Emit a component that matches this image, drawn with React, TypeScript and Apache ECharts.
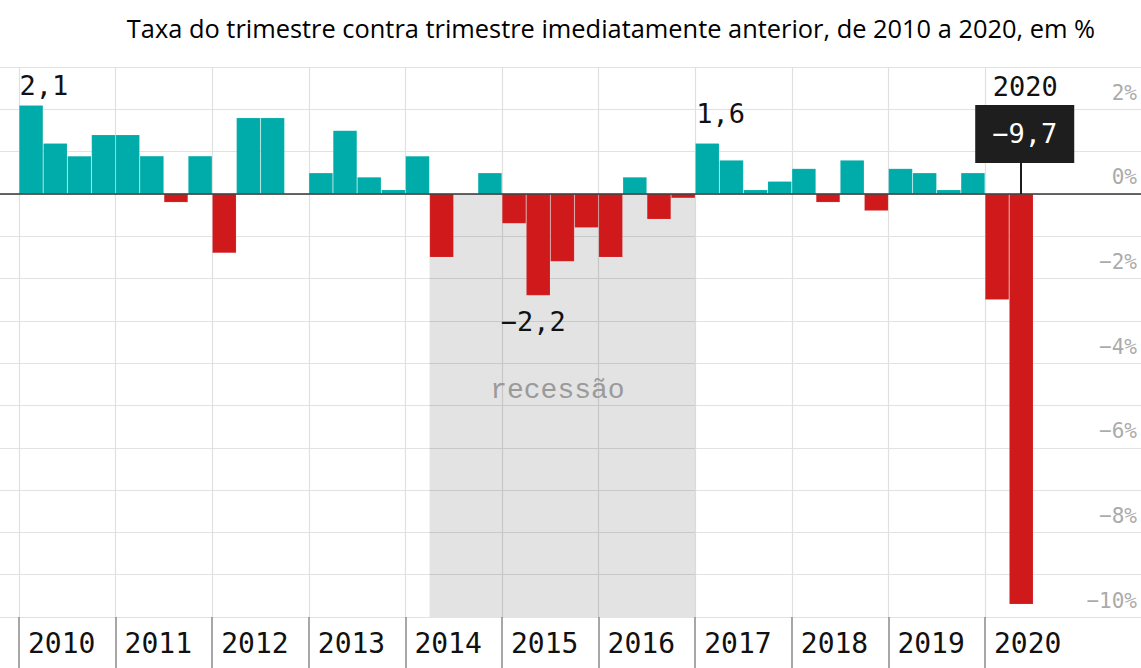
import React, { useEffect, useRef } from 'react';
import * as echarts from 'echarts';

const years = ['2010', '2011', '2012', '2013', '2014', '2015', '2016', '2017', '2018', '2019', '2020'];
const quarters = years.flatMap((y) => ['T1', 'T2', 'T3', 'T4'].map((q) => `${y} ${q}`)).slice(0, 42);
const growth = [
  2.1, 1.2, 0.9, 1.4,
  1.4, 0.9, -0.2, 0.9,
  -1.4, 1.8, 1.8, 0.0,
  0.5, 1.5, 0.4, 0.1,
  0.9, -1.5, 0.0, 0.5,
  -0.7, -2.4, -1.6, -0.8,
  -1.5, 0.4, -0.6, -0.1,
  1.2, 0.8, 0.1, 0.3,
  0.6, -0.2, 0.8, -0.4,
  0.6, 0.5, 0.1, 0.5,
  -2.5, -9.7,
];
const yearStarts = years.map((_, i) => i * 4);
const recessionStart = 17; // 2014 T2
const recessionEnd = 28; // start of 2017
const annotations = [
  { q: 0, v: 2.1, text: '2,1', dx: 25, dy: -20 },
  { q: 28, v: 1.2, text: '1,6', dx: 25.5, dy: -30 },
  { q: 21.5, v: -2.4, text: '−2,2', dx: -5, dy: 26.5 },
  { q: 41.5, v: 0, text: '2020', dx: 4, dy: -107.5 },
];
const highlight = { q: 41.5, text: '−9,7', top: 0.73 };

const TEAL = '#00aca9';
const RED = '#d0191b';
const W = 1141;
const H = 668;
const LEFT = 19;
const QW = 24.15;
const MONO = '"DejaVu Sans Mono", monospace';

export default function App() {
  const ref = useRef<HTMLDivElement>(null);
  useEffect(() => {
    if (!ref.current) return;
    const chart = echarts.init(ref.current, undefined, { renderer: 'svg' });
    chart.setOption({
      animation: false,
      backgroundColor: '#fff',
      title: {
        text: 'Taxa do trimestre contra trimestre imediatamente anterior, de 2010 a 2020, em %',
        right: 41,
        top: 10,
        textStyle: { fontFamily: '"Open Sans"', fontWeight: 'normal', fontSize: 25.4, color: '#000' },
      },
      grid: { left: 0, right: 0, top: 67, bottom: H - 617 },
      xAxis: {
        type: 'value',
        min: -LEFT / QW,
        max: (W - LEFT) / QW,
        axisLine: { show: false, onZero: false },
        axisTick: {
          show: true,
          customValues: yearStarts,
          length: 52,
          lineStyle: { color: '#8a8a8a', width: 1.5 },
        },
        axisLabel: {
          show: true,
          customValues: yearStarts,
          formatter: (v: number) => years[Math.round(v / 4)] ?? '',
          align: 'left',
          padding: [0, 0, 0, 9],
          margin: 12,
          fontFamily: MONO,
          fontSize: 28,
          lineHeight: 28,
          color: '#111',
          hideOverlap: false,
        },
        splitLine: { show: true, lineStyle: { color: '#e0e0e0', width: 1.2 } },
      },
      yAxis: {
        type: 'value',
        position: 'right',
        min: -10,
        max: 3,
        interval: 1,
        axisLine: { show: false },
        axisTick: { show: false },
        splitLine: { show: true, lineStyle: { color: '#e2e2e2', width: 1.2 } },
        axisLabel: {
          inside: true,
          margin: 4,
          align: 'right',
          verticalAlign: 'bottom',
          padding: [0, 0, 6, 0],
          fontFamily: MONO,
          fontSize: 21,
          lineHeight: 21,
          color: '#ababab',
          formatter: (v: number) =>
            Math.round(v) % 2 === 0 && v < 3 ? `${v < 0 ? '−' : ''}${Math.abs(v)}%` : '',
        },
      },
      series: [
        {
          type: 'bar',
          name: 'PIB',
          barWidth: QW,
          data: growth.map((v, i) => ({
            name: quarters[i],
            value: [i + 0.5, v],
            itemStyle: { color: v >= 0 ? TEAL : RED, borderColor: 'rgba(255,255,255,0.18)', borderWidth: 0.6 },
          })),
          markArea: {
            silent: true,
            itemStyle: { color: 'rgba(0,0,0,0.11)' },
            label: {
              show: true,
              position: 'inside',
              formatter: 'recessão',
              fontFamily: '"Liberation Mono", monospace',
              fontSize: 28,
              color: '#9a9a9a',
              offset: [-5, -15],
            },
            data: [[{ coord: [recessionStart, 0] }, { coord: [recessionEnd, -10] }]],
          },
          markLine: {
            silent: true,
            symbol: ['none', 'none'],
            label: { show: false },
            data: [
              { yAxis: 0, lineStyle: { color: '#333', width: 1.6, type: 'solid' } },
              [
                { coord: [highlight.q, 0], lineStyle: { color: '#1c1c1c', width: 2, type: 'solid' } },
                { coord: [highlight.q, highlight.top] },
              ],
            ],
          },
          markPoint: {
            silent: true,
            symbol: 'circle',
            symbolSize: 1,
            itemStyle: { color: 'transparent' },
            label: {
              show: true,
              position: 'inside',
              fontFamily: MONO,
              fontSize: 27,
              color: '#111',
            },
            data: [
              ...annotations.map((a) => ({
                coord: [a.q, a.v],
                label: { formatter: a.text, offset: [a.dx, a.dy] },
              })),
              {
                coord: [highlight.q, 0],
                label: {
                  formatter: highlight.text,
                  color: '#fff',
                  backgroundColor: '#1e1e1e',
                  lineHeight: 32,
                  padding: [13, 17],
                  offset: [3.5, -60],
                },
              },
            ],
          },
        },
      ],
    });
    return () => chart.dispose();
  }, []);
  return (
    <div
      ref={ref}
      style={{ position: 'fixed', left: 0, top: 0, width: W, height: H, background: '#fff' }}
    />
  );
}
